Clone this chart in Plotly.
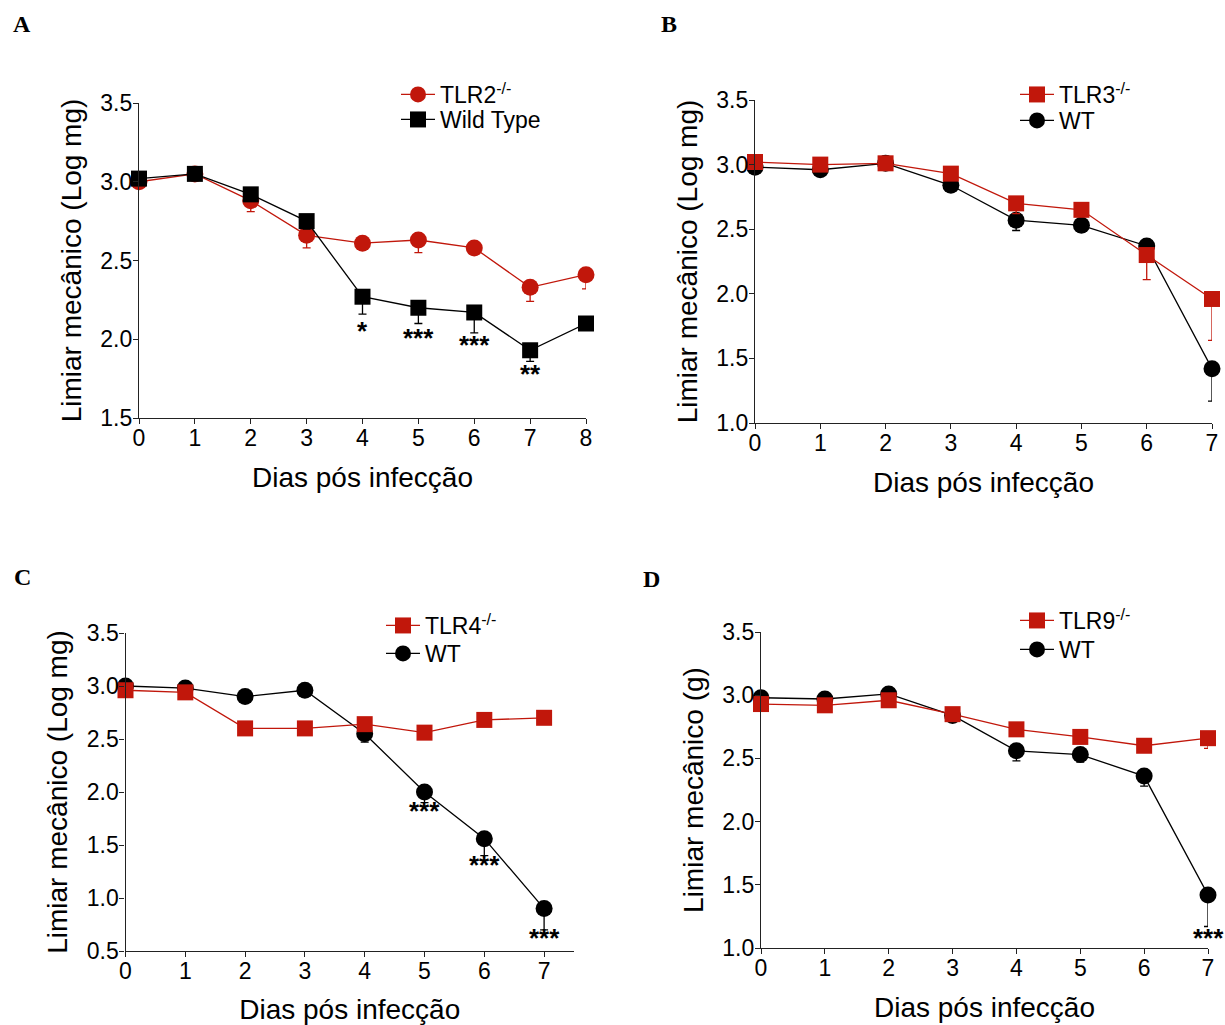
import plotly.graph_objects as go

RED = "#C1170B"
BLACK = "#000000"

# Panel A
a_days = [0, 1, 2, 3, 4, 5, 6, 7, 8]
a_tlr2 = [3.00, 3.05, 2.88, 2.66, 2.61, 2.63, 2.58, 2.33, 2.41]
a_tlr2_err = [0.0, 0.0, 0.07, 0.08, 0.04, 0.08, 0.02, 0.09, 0.09]
a_wt = [3.02, 3.05, 2.92, 2.75, 2.27, 2.20, 2.17, 1.93, 2.10]
a_wt_err = [0.0, 0.0, 0.0, 0.05, 0.11, 0.10, 0.13, 0.07, 0.0]
a_star_days = [4, 5, 6, 7]
a_star_y = [2.07, 2.03, 1.98, 1.80]
a_star_txt = ["*", "***", "***", "**"]

# Panel B
b_days = [0, 1, 2, 3, 4, 5, 6, 7]
b_tlr3 = [3.02, 3.00, 3.01, 2.93, 2.70, 2.65, 2.30, 1.96]
b_tlr3_err = [0.0, 0.0, 0.0, 0.0, 0.08, 0.0, 0.19, 0.32]
b_wt = [2.98, 2.96, 3.01, 2.84, 2.57, 2.53, 2.37, 1.42]
b_wt_err = [0.0, 0.0, 0.0, 0.04, 0.08, 0.05, 0.0, 0.25]

# Panel C
c_days = [0, 1, 2, 3, 4, 5, 6, 7]
c_tlr4 = [2.96, 2.94, 2.60, 2.60, 2.64, 2.56, 2.68, 2.70]
c_tlr4_err = [0.0, 0.0, 0.0, 0.0, 0.0, 0.0, 0.0, 0.0]
c_wt = [3.00, 2.98, 2.90, 2.96, 2.55, 2.00, 1.56, 0.90]
c_wt_err = [0.0, 0.0, 0.0, 0.0, 0.08, 0.10, 0.16, 0.20]
c_star_days = [5, 6, 7]
c_star_y = [1.85, 1.34, 0.65]
c_star_txt = ["***", "***", "***"]

# Panel D
d_days = [0, 1, 2, 3, 4, 5, 6, 7]
d_tlr9 = [2.93, 2.92, 2.96, 2.85, 2.73, 2.67, 2.60, 2.66]
d_tlr9_err = [0.0, 0.0, 0.0, 0.0, 0.0, 0.0, 0.0, 0.08]
d_wt = [2.98, 2.97, 3.01, 2.84, 2.56, 2.53, 2.36, 1.42]
d_wt_err = [0.0, 0.0, 0.0, 0.0, 0.08, 0.06, 0.08, 0.25]
d_star_days = [7]
d_star_y = [1.10]
d_star_txt = ["***"]

W, H = 1225, 1025
FONT = "Liberation Sans, Arial, sans-serif"

def px(x0, x1):
    return [x0 / W, x1 / W]

def py(top, bottom):
    return [1 - bottom / H, 1 - top / H]

fig = go.Figure()

def add_series(x, y, err, name, color, symbol, xa, ya, leg, size=17):
    fig.add_trace(go.Scatter(
        x=x, y=y, name=name, mode="lines+markers", showlegend=True,
        xaxis=xa, yaxis=ya, legend=leg, cliponaxis=False,
        line=dict(color=color, width=1.3),
        marker=dict(color=color, symbol=symbol, size=size),
        error_y=dict(type="data", symmetric=False, array=[0] * len(err),
                     arrayminus=err, color=color, thickness=1.3, width=4),
    ))

# A
add_series(a_days, a_tlr2, a_tlr2_err, "TLR2<sup>-/-</sup>", RED, "circle", "x", "y", "legend", 17)
add_series(a_days, a_wt, a_wt_err, "Wild Type", BLACK, "square", "x", "y", "legend2", 16)
# B
add_series(b_days, b_wt, b_wt_err, "WT", BLACK, "circle", "x2", "y2", "legend4", 17)
add_series(b_days, b_tlr3, b_tlr3_err, "TLR3<sup>-/-</sup>", RED, "square", "x2", "y2", "legend3", 16)
# C
add_series(c_days, c_wt, c_wt_err, "WT", BLACK, "circle", "x3", "y3", "legend6", 17)
add_series(c_days, c_tlr4, c_tlr4_err, "TLR4<sup>-/-</sup>", RED, "square", "x3", "y3", "legend5", 16)
# D
add_series(d_days, d_wt, d_wt_err, "WT", BLACK, "circle", "x4", "y4", "legend8", 17)
add_series(d_days, d_tlr9, d_tlr9_err, "TLR9<sup>-/-</sup>", RED, "square", "x4", "y4", "legend7", 16)

axis_common = dict(
    showline=True, linecolor="#222", linewidth=1.3, showgrid=False, zeroline=False,
    ticks="outside", ticklen=5, tickwidth=1.2, tickcolor="#222", automargin=False,
    tickfont=dict(family=FONT, size=23, color="black"),
    title_font=dict(family=FONT, size=28, color="black"),
)

def xaxis(domain, rng, nmax, anchor):
    return dict(axis_common, domain=domain, range=rng, tickvals=list(range(nmax + 1)),
                anchor=anchor, ticklabelstandoff=-6,
                title=dict(text="Dias pós infecção", standoff=17))

def yaxis(domain, rng, tvals, anchor, title):
    return dict(axis_common, domain=domain, range=rng, tickvals=tvals,
                ticktext=[f"{v:.1f}" for v in tvals], anchor=anchor,
                ticklabelstandoff=-4,
                title=dict(text=title, standoff=10))

fig.update_layout(
    width=W, height=H, margin=dict(l=0, r=0, t=0, b=0, autoexpand=False),
    paper_bgcolor="white", plot_bgcolor="white", showlegend=True,
    xaxis=xaxis(px(139, 586), [0, 8], 8, "y"),
    yaxis=yaxis(py(103, 418), [1.5, 3.5], [1.5, 2.0, 2.5, 3.0, 3.5], "x", "Limiar mecânico (Log mg)"),
    xaxis2=xaxis(px(755, 1212), [0, 7], 7, "y2"),
    yaxis2=yaxis(py(100, 423), [1.0, 3.5], [1.0, 1.5, 2.0, 2.5, 3.0, 3.5], "x2", "Limiar mecânico (Log mg)"),
    xaxis3=xaxis(px(125.5, 574), [0, 7.5], 7, "y3"),
    yaxis3=yaxis(py(633, 951), [0.5, 3.5], [0.5, 1.0, 1.5, 2.0, 2.5, 3.0, 3.5], "x3", "Limiar mecânico (Log mg)"),
    xaxis4=xaxis(px(761, 1208), [0, 7], 7, "y4"),
    yaxis4=yaxis(py(632, 948), [1.0, 3.5], [1.0, 1.5, 2.0, 2.5, 3.0, 3.5], "x4", "Limiar mecânico (g)"),
)

leg_common = dict(font=dict(family=FONT, size=23, color="black"), bgcolor="rgba(0,0,0,0)",
                  xanchor="left", yanchor="top", tracegroupgap=0, itemclick=False,
                  itemwidth=34)
legend_pos = {
    "legend": (396, 73), "legend2": (396, 98),
    "legend3": (1015, 73), "legend4": (1015, 99),
    "legend5": (381, 604), "legend6": (381, 632),
    "legend7": (1015, 599), "legend8": (1015, 628),
}
fig.update_layout(**{k: dict(leg_common, x=v[0] / W, y=1 - v[1] / H) for k, v in legend_pos.items()})

annotations = []
def stars(days, ys, txts, xa, ya):
    for d, yv, t in zip(days, ys, txts):
        annotations.append(dict(x=d, y=yv, xref=xa, yref=ya, text=f"<b>{t}</b>", showarrow=False,
                                font=dict(family=FONT, size=26, color="black"),
                                xanchor="center", yanchor="middle", yshift=-3))

stars(a_star_days, a_star_y, a_star_txt, "x", "y")
stars(c_star_days, c_star_y, c_star_txt, "x3", "y3")
stars(d_star_days, d_star_y, d_star_txt, "x4", "y4")

for letter, xp, yp in [("A", 22, 24), ("B", 669, 24), ("C", 22, 577), ("D", 651, 579)]:
    annotations.append(dict(x=xp / W, y=1 - yp / H, xref="paper", yref="paper", text=f"<b>{letter}</b>",
                            showarrow=False, xanchor="center", yanchor="middle",
                            font=dict(family="Liberation Serif, Times New Roman, serif", size=24, color="black")))

fig.update_layout(annotations=annotations)

fig.write_html("out.html")
